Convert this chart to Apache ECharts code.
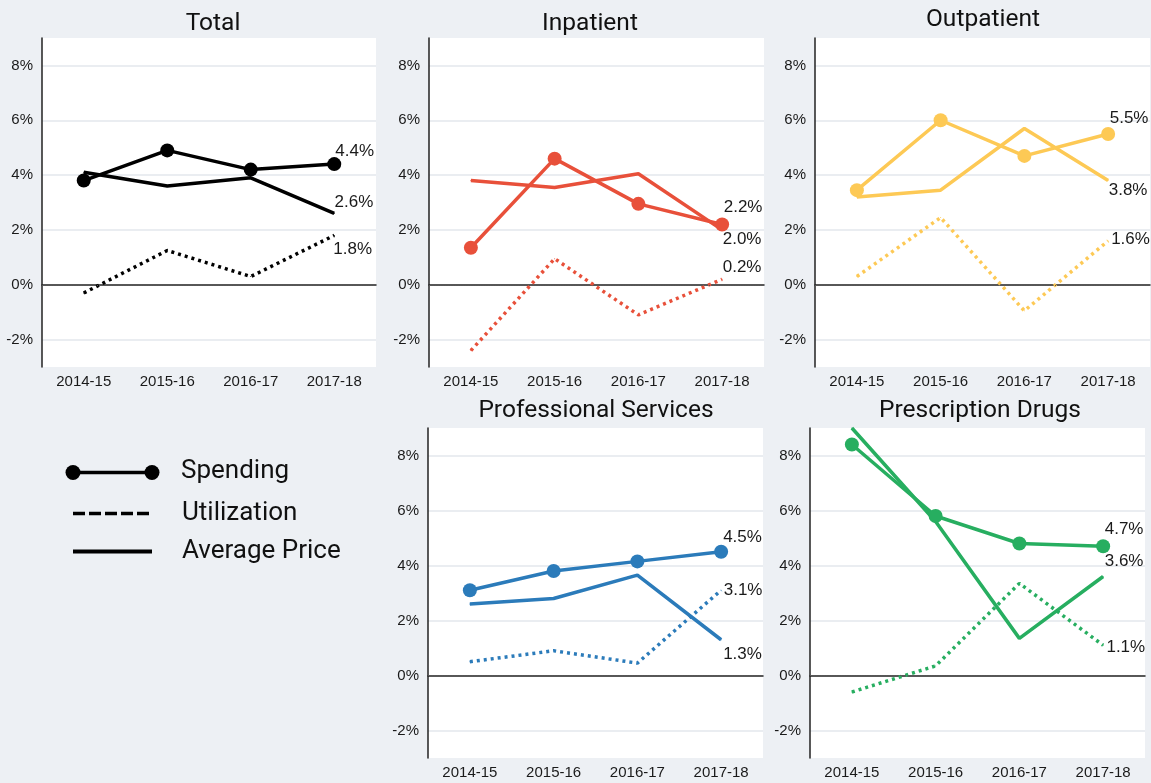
<!DOCTYPE html>
<html>
<head>
<meta charset="utf-8">
<title>Spending growth by service</title>
<script src="https://cdn.jsdelivr.net/npm/echarts@6/dist/echarts.min.js"></script>
<style>
  html, body { margin: 0; padding: 0; background: #edf0f4; }
  #chart { width: 1151px; height: 783px; }
</style>
</head>
<body>
<div id="chart"></div>
<script>
// values, in percent
const years = ['2014-15', '2015-16', '2016-17', '2017-18']

const totalSpending = [3.8, 4.9, 4.2, 4.4]
const totalUtilization = [-0.3, 1.25, 0.3, 1.8]
const totalPrice = [4.1, 3.6, 3.9, 2.6]

const inpatientSpending = [1.35, 4.6, 2.95, 2.2]
const inpatientUtilization = [-2.4, 0.95, -1.1, 0.2]
const inpatientPrice = [3.8, 3.55, 4.05, 2.0]

const outpatientSpending = [3.45, 6.0, 4.7, 5.5]
const outpatientUtilization = [0.3, 2.45, -0.95, 1.6]
const outpatientPrice = [3.2, 3.45, 5.7, 3.8]

const professionalSpending = [3.1, 3.8, 4.15, 4.5]
const professionalUtilization = [0.5, 0.9, 0.45, 3.1]
const professionalPrice = [2.6, 2.8, 3.65, 1.3]

const drugsSpending = [8.4, 5.8, 4.8, 4.7]
const drugsUtilization = [-0.6, 0.35, 3.35, 1.1]
const drugsPrice = [9.0, 5.6, 1.35, 3.6]

const panels = [
  { name: 'Total', color: '#000000', spending: totalSpending, utilization: totalUtilization, price: totalPrice },
  { name: 'Inpatient', color: '#e8503a', spending: inpatientSpending, utilization: inpatientUtilization, price: inpatientPrice },
  { name: 'Outpatient', color: '#fdc955', spending: outpatientSpending, utilization: outpatientUtilization, price: outpatientPrice },
  { name: 'Professional Services', color: '#2b7bba', spending: professionalSpending, utilization: professionalUtilization, price: professionalPrice },
  { name: 'Prescription Drugs', color: '#27ae60', spending: drugsSpending, utilization: drugsUtilization, price: drugsPrice }
]

// layout: plot boxes and title anchors
const boxes = [
  { left: 42, top: 38, width: 334, height: 329, titleX: 208, titleY: 6 },
  { left: 429, top: 38, width: 335, height: 329, titleX: 585, titleY: 6 },
  { left: 815, top: 38, width: 335, height: 329, titleX: 978, titleY: 2 },
  { left: 428, top: 428, width: 335, height: 330, titleX: 591, titleY: 393 },
  { left: 810, top: 428, width: 335, height: 330, titleX: 975, titleY: 393 }
]

// end-label nudges [dx, dy] from the last point, per panel
const labelNudge = [
  { spending: [1, -12.6], price: [0.3, -10.8], utilization: [-1, 13.8] },
  { spending: [1.6, -17.5], price: [0.6, 9.6], utilization: [0.6, -11.8] },
  { spending: [1.6, -15.6], price: [0.6, 9.4], utilization: [3, -1.5] },
  { spending: [2, -14.8], price: [2, 14.5], utilization: [2.6, 0] },
  { spending: [1.6, -17], price: [1.6, -15], utilization: [3.3, 2.3] }
]

const labelFont = { fontFamily: 'Liberation Sans', fontSize: 17, color: '#1a1a1a' }
const gridGray = '#e3e7ec'
const dotSize = 14

function withEndLabel(values, symbolSize, nudge) {
  const last = values.length - 1
  return values.map((v, i) => {
    if (i !== last) return v
    return {
      value: v,
      label: {
        show: true,
        position: 'right',
        distance: 0,
        offset: [nudge[0] - symbolSize / 2, nudge[1]],
        formatter: v.toFixed(1) + '%',
        ...labelFont
      }
    }
  })
}

const grid = []
const xAxis = []
const yAxis = []
const series = []
const title = []

panels.forEach((p, k) => {
  const b = boxes[k]
  grid.push({ left: b.left, top: b.top, width: b.width, height: b.height, show: true, backgroundColor: '#ffffff', borderWidth: 0 })
  title.push({
    text: p.name,
    left: b.titleX,
    top: b.titleY,
    textAlign: 'center',
    textStyle: { fontFamily: 'Roboto', fontSize: 24.5, fontWeight: 'normal', color: '#111' }
  })
  xAxis.push({
    type: 'category',
    gridIndex: k,
    data: years,
    boundaryGap: true,
    axisTick: { show: false },
    axisLine: { lineStyle: { color: '#222', width: 1.5 } },
    axisLabel: { fontFamily: 'Liberation Sans', fontSize: 15, color: '#1a1a1a', margin: 7 }
  })
  yAxis.push({
    type: 'value',
    gridIndex: k,
    min: -3,
    max: 9,
    interval: 1,
    axisTick: { show: false },
    axisLine: { show: true, lineStyle: { color: '#222', width: 1.5 } },
    axisLabel: {
      fontFamily: 'Liberation Sans', fontSize: 15, color: '#1a1a1a', margin: 9,
      formatter: v => (v % 2 === 0 ? v + '%' : '')
    },
    // only the -2, 2, 4, 6, 8 lines are visible; zero gets the dotted rule below
    splitLine: {
      lineStyle: {
        color: ['rgba(0,0,0,0)', gridGray, 'rgba(0,0,0,0)', 'rgba(0,0,0,0)', 'rgba(0,0,0,0)', gridGray,
          'rgba(0,0,0,0)', gridGray, 'rgba(0,0,0,0)', gridGray, 'rgba(0,0,0,0)', gridGray, 'rgba(0,0,0,0)'],
        width: 1.5
      }
    }
  })

  const n = labelNudge[k]
  series.push({
    name: 'Utilization',
    type: 'line',
    xAxisIndex: k,
    yAxisIndex: k,
    data: withEndLabel(p.utilization, 1, n.utilization),
    symbol: 'circle',
    symbolSize: 1,
    itemStyle: { color: p.color },
    lineStyle: { color: p.color, width: 3.5, type: [3, 4] },
    markLine: {
      silent: true,
      symbol: ['none', 'none'],
      label: { show: false },
      lineStyle: { color: '#555', width: 1, type: [1, 1.5] },
      data: [{ yAxis: 0 }]
    },
    z: 3
  })
  series.push({
    name: 'Average Price',
    type: 'line',
    xAxisIndex: k,
    yAxisIndex: k,
    data: withEndLabel(p.price, 1, n.price),
    symbol: 'circle',
    symbolSize: 1,
    itemStyle: { color: p.color },
    lineStyle: { color: p.color, width: 3.5 },
    z: 3
  })
  series.push({
    name: 'Spending',
    type: 'line',
    xAxisIndex: k,
    yAxisIndex: k,
    data: withEndLabel(p.spending, dotSize, n.spending),
    symbol: 'circle',
    symbolSize: dotSize,
    itemStyle: { color: p.color },
    lineStyle: { color: p.color, width: 3.5 },
    z: 4
  })
})

// hand drawn key in the empty lower-left slot
const keyText = { fontFamily: 'Roboto', fontSize: 26, fill: '#111', verticalAlign: 'middle' }
const graphic = [
  { type: 'line', shape: { x1: 73, y1: 472.5, x2: 152, y2: 472.5 }, style: { stroke: '#000', lineWidth: 3.5 } },
  { type: 'circle', shape: { cx: 73, cy: 472.5, r: 7.5 }, style: { fill: '#000' } },
  { type: 'circle', shape: { cx: 152, cy: 472.5, r: 7.5 }, style: { fill: '#000' } },
  { type: 'text', x: 181, y: 471.5, style: { text: 'Spending', ...keyText } },
  { type: 'line', shape: { x1: 73, y1: 513.5, x2: 152, y2: 513.5 }, style: { stroke: '#000', lineWidth: 3.5, lineDash: [12, 4] } },
  { type: 'text', x: 182, y: 513, style: { text: 'Utilization', ...keyText } },
  { type: 'line', shape: { x1: 73, y1: 551.5, x2: 152, y2: 551.5 }, style: { stroke: '#000', lineWidth: 4 } },
  { type: 'text', x: 182, y: 551, style: { text: 'Average Price', ...keyText } }
]

const chart = echarts.init(document.getElementById('chart'), null, { renderer: 'canvas' })
chart.setOption({
  backgroundColor: '#edf0f4',
  animation: false,
  title,
  grid,
  xAxis,
  yAxis,
  series,
  graphic
})
window.addEventListener('resize', () => chart.resize())
</script>
</body>
</html>
